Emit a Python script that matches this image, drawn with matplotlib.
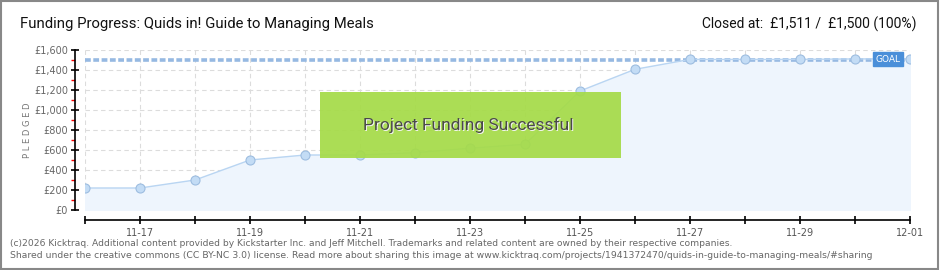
import numpy as np
import matplotlib
matplotlib.use("Agg")
import matplotlib.pyplot as plt
import matplotlib.transforms as mtransforms
from matplotlib.patches import Rectangle

# Datos
days = ['11-16', '11-17', '11-18', '11-19', '11-20', '11-21', '11-22', '11-23',
        '11-24', '11-25', '11-26', '11-27', '11-28', '11-29', '11-30', '12-01']
pledged = [220, 220, 300, 500, 550, 550, 573, 618,
           657, 1190, 1407, 1506, 1506, 1506, 1511, 1511]
goal = 1500
y_ticks = [0, 200, 400, 600, 800, 1000, 1200, 1400, 1600]

plt.rcParams['font.family'] = ['DejaVu Sans']

fig = plt.figure(figsize=(9.4, 2.7), dpi=100)
ax = fig.add_axes([85 / 940, 1 - 210 / 270, 825 / 940, 160 / 270])

x = np.arange(len(days))

# Relleno, línea y puntos
ax.fill_between(x, pledged, 0, color='#eef5fd', zorder=1)
ax.plot(x, pledged, color='#b9d5f2', linewidth=1, zorder=3)
ax.plot(x, pledged, 'o', markersize=6.5, markerfacecolor='#c3dcf5',
        markeredgecolor='#9dbde0', markeredgewidth=0.8, zorder=4)

# Línea de meta
ax.axhline(goal, color='#96b9e2', linewidth=2.6, dashes=(1.6, 0.7), zorder=2)
ax.text(14.6, goal + 8, 'GOAL', color='white', fontsize=6.5, ha='center', va='center',
        bbox=dict(boxstyle='square,pad=0.25', facecolor='#4a8fd9', edgecolor='#4a8fd9'),
        zorder=5)

# Ejes
ax.set_xlim(0, len(days) - 1)
ax.set_ylim(0, 1600)
ax.set_yticks(y_ticks)
ax.set_yticklabels(['£{:,}'.format(v) for v in y_ticks])
ax.set_yticks(np.arange(100, 1600, 200), minor=True)
ax.set_xticks(x)
ax.set_xticklabels([d if i % 2 == 1 else '' for i, d in enumerate(days)])

ax.grid(True, color='#dcdcdc', linestyle=(0, (4, 3)), linewidth=0.8)
ax.set_axisbelow(True)

for s in ['top', 'right']:
    ax.spines[s].set_visible(False)
ax.spines['left'].set_position(('outward', 7.2))
ax.spines['bottom'].set_position(('outward', 7.2))
ax.spines['left'].set_linewidth(1.2)
ax.spines['bottom'].set_linewidth(1.2)

ax.tick_params(axis='y', which='major', direction='inout', length=6, width=1.2,
               colors='black', labelcolor='#666666', labelsize=7, pad=2)
ax.tick_params(axis='y', which='minor', direction='out', length=3, width=1,
               colors='red')
ax.tick_params(axis='x', which='major', direction='inout', length=6, width=1.2,
               colors='black', labelcolor='#555555', labelsize=7, pad=3)

fig.text(28 / 940, 1 - 130 / 270, 'P L E D G E D', rotation=90, color='#777777', fontsize=6,
         ha='center', va='center')

# Caja de "Project Funding Successful"
ax.add_patch(Rectangle((0.285, 0.325), 0.365, 0.4125, transform=ax.transAxes,
                       facecolor='#a5db48', edgecolor='none', alpha=0.93, zorder=6))
shadow = mtransforms.offset_copy(ax.transAxes, fig=fig, x=1, y=-1, units='dots')
ax.text(0.465, 0.532, 'Project Funding Successful', transform=shadow,
        fontsize=12.5, color='#f2f2f2', family='Roboto', ha='center', va='center', zorder=7)
ax.text(0.465, 0.532, 'Project Funding Successful', transform=ax.transAxes,
        fontsize=12.5, color='#4a4a4a', family='Roboto', ha='center', va='center', zorder=8)

# Títulos
fig.text(20 / 940, 1 - 24 / 270, 'Funding Progress: Quids in! Guide to Managing Meals',
         fontsize=10.7, family='Roboto', color='#111111', va='center')
fig.text(917 / 940, 1 - 24 / 270, 'Closed at:  £1,511 /  £1,500 (100%)',
         fontsize=10, family='Roboto', color='#111111', va='center', ha='right')

# Pie
fig.text(10 / 940, 1 - 243 / 270,
         '(c)2026 Kicktraq. Additional content provided by Kickstarter Inc. and Jeff Mitchell. '
         'Trademarks and related content are owned by their respective companies.',
         fontsize=6.6, color='#666666', va='center')
fig.text(10 / 940, 1 - 255 / 270,
         'Shared under the creative commons (CC BY-NC 3.0) license. Read more about sharing this image at '
         'www.kicktraq.com/projects/1941372470/quids-in-guide-to-managing-meals/#sharing',
         fontsize=6.7, color='#666666', va='center')

# Marco
fig.add_artist(Rectangle((0.001, 0.002), 0.997, 0.995, transform=fig.transFigure,
                         fill=False, edgecolor='#888888', linewidth=1.5))

fig.savefig('out.png', dpi=100)
